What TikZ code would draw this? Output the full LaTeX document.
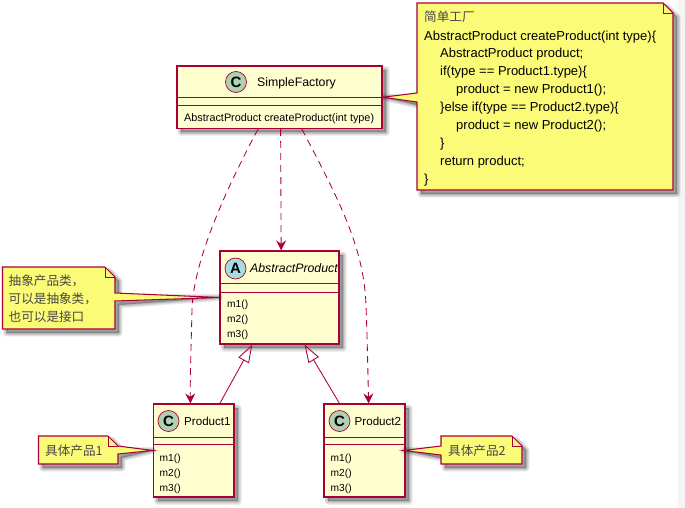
\documentclass[tikz,border=0pt]{standalone}
\usepackage{fontspec}
\setmainfont{Liberation Sans}
\newfontfamily\cjk{Noto Sans CJK SC}
\usetikzlibrary{arrows.meta,calc,backgrounds}
\definecolor{umlred}{HTML}{A80036}
\definecolor{classfill}{HTML}{FEFECE}
\definecolor{notefill}{HTML}{FBFB77}
\definecolor{cgreen}{HTML}{ADD1B2}
\definecolor{ablue}{HTML}{A9DCDF}
\definecolor{strip}{HTML}{F4F4F4}
\newcommand\softshadow[1]{%
  \begin{scope}[shift={(4pt,-4pt)},line join=round]
    \foreach \w in {7,5.5,4,2.5,1}{\filldraw[black,opacity=.065,line width=\w pt] #1;}
  \end{scope}}
\newcommand\classbox[6]{%
  \begin{scope}[on background layer]\softshadow{(#2,#3) rectangle (#4,#5)}\end{scope}
  \node[classbox,minimum width=#4 pt-#2 pt,minimum height=#5 pt-#3 pt] (#1) at ({(#2+#4)/2},{(#3+#5)/2}) {};
}
\newcommand\cjkgrey{\fontsize{12.6}{17.85}\cjk\color{black!72}}
\tikzset{
  x=1pt,y=-1pt,
  classbox/.style={draw=umlred,fill=classfill,line width=1.2pt,inner sep=0pt},
  divider/.style={draw=umlred,line width=.9pt},
  spot/.style={circle,draw=umlred,line width=.7pt,minimum size=21pt,inner sep=0pt,font=\fontsize{15}{15}\selectfont\bfseries},
  cls/.style={font=\fontsize{12.3}{12}\selectfont,inner sep=0pt,anchor=base west},
  cl/.style={font=\fontsize{11.6}{12}\selectfont,inner sep=0pt,anchor=base west},
  mem/.style={font=\fontsize{10.2}{12}\selectfont,inner sep=0pt,anchor=base west},
  meth/.style={font=\fontsize{10.85}{12}\selectfont,inner sep=0pt,anchor=base west},
  dep/.style={draw=umlred,line width=.85pt,dash pattern=on 7pt off 5pt,-{Stealth[length=10pt,width=10pt,inset=3.5pt,fill=umlred]}},
  inh/.style={draw=umlred,line width=.85pt,-{Triangle[open,length=18pt,width=12pt,fill=none]}},
  notepoly/.style={draw=umlred,fill=notefill,line width=1.05pt,line join=miter},
  notetext/.style={inner sep=0pt,anchor=base west,font=\fontsize{13}{17.85}\selectfont,text=black},
}
\begin{document}
\begin{tikzpicture}
\useasboundingbox (0,0) rectangle (685,508);
\begin{scope}[on background layer]
\fill[strip] (678,0) rectangle (685,508);
\end{scope}
% classes
\classbox{sf}{177}{66}{382}{128.5}{}
\classbox{ap}{220}{251}{339}{344}{}
\classbox{pa}{153.5}{404}{234}{497}{}
\classbox{pb}{324}{404}{405}{497}{}
\draw[divider] (sf.west |- 0,97) -- (sf.east |- 0,97) (sf.west |- 0,105) -- (sf.east |- 0,105);
\draw[divider] (ap.west |- 0,283) -- (ap.east |- 0,283) (ap.west |- 0,292) -- (ap.east |- 0,292);
\draw[divider] (pa.west |- 0,437) -- (pa.east |- 0,437) (pa.west |- 0,444) -- (pa.east |- 0,444);
\draw[divider] (pb.west |- 0,437) -- (pb.east |- 0,437) (pb.west |- 0,444) -- (pb.east |- 0,444);
\node[spot,fill=cgreen] (sfc) at (236,82) {C};
\node[spot,fill=ablue] (apa) at (235.5,268.5) {A};
\node[spot,fill=cgreen] (pac) at (168.5,421) {C};
\node[spot,fill=cgreen] (pbc) at (339.5,421) {C};
\node[cls] (sft) at (257,87) {SimpleFactory};
\node[meth] (sfm) at (184,121.5) {AbstractProduct createProduct(int type)};
\node[cls,font=\fontsize{12.3}{12}\selectfont\itshape] (apt) at (250,272.5) {AbstractProduct};
\node[mem] (apm1) at (227,307.5) {m1()};
\node[mem] (apm2) at (227,322.5) {m2()};
\node[mem] (apm3) at (227,337) {m3()};
\node[cl] (pat) at (184,425.5) {Product1};
\node[mem] (pam1) at (159.5,461.5) {m1()};
\node[mem] (pam2) at (159.5,476) {m2()};
\node[mem] (pam3) at (159.5,491) {m3()};
\node[cl] (pbt) at (354.5,425.5) {Product2};
\node[mem] (pbm1) at (330.5,461.5) {m1()};
\node[mem] (pbm2) at (330.5,476) {m2()};
\node[mem] (pbm3) at (330.5,491) {m3()};
% connectors
\draw[dep] (sf.272.7) -- (ap.88.2);
\draw[dep] (sf.236) .. controls (215,210) and (193,270) .. (192,310) .. controls (191,350) and (190,380) .. (pa.94.3);
\draw[dep] (sf.305) .. controls (342,205) and (364,250) .. (366,305) .. controls (367.5,345) and (368,380) .. (pb.85.1);
\draw[inh] (pa.61.3) -- (ap.240.6);
\draw[inh] (pb.118.3) -- (ap.298.7);
% notes
\coordinate (ntip) at (sf.east);
\coordinate (ptip) at ($(pb.east)+(-2,0)$);
\begin{scope}[on background layer]
\softshadow{(417,3) -- (663,3) -- (673,13) -- (673,190) -- (417,190) -- (417,102) -- (ntip) -- (417,93) -- cycle}
\end{scope}
\softshadow{(2.5,267) -- (105,267) -- (115,277) -- (115,293) -- (ap.west) -- (115,301) -- (115,329) -- (2.5,329) -- cycle}
\softshadow{(38.5,436) -- (108,436) -- (118,446) -- (pa.west) -- (118,454) -- (118,464) -- (38.5,464) -- cycle}
\softshadow{(441,436) -- (512,436) -- (522,446) -- (522,464) -- (441,464) -- (441,455) -- (ptip) -- (441,446) -- cycle}
\draw[notepoly] (417,3) -- (663,3) -- (673,13) -- (673,190) -- (417,190) -- (417,102) -- (ntip) -- (417,93) -- cycle;
\draw[divider,line width=.8pt] (663,3) -- (663,13) -- (673,13);
\draw[notepoly] (2.5,267) -- (105,267) -- (115,277) -- (115,293) -- (ap.west) -- (115,301) -- (115,329) -- (2.5,329) -- cycle;
\draw[divider,line width=.8pt] (105,267) -- (105,277) -- (115,277);
\draw[notepoly] (38.5,436) -- (108,436) -- (118,446) -- (pa.west) -- (118,454) -- (118,464) -- (38.5,464) -- cycle;
\draw[divider,line width=.8pt] (108,436) -- (108,446) -- (118,446);
\draw[notepoly] (441,436) -- (512,436) -- (522,446) -- (522,464) -- (441,464) -- (441,455) -- (ptip) -- (441,446) -- cycle;
\draw[divider,line width=.8pt] (512,436) -- (512,446) -- (522,446);
\node[notetext] (nt0) at (424,22) {\cjkgrey 简单工厂};
\node[notetext] (nt1) at (424,40.5) {AbstractProduct createProduct(int type)\{};
\node[notetext] (nt2) at (440,58) {AbstractProduct product;};
\node[notetext] (nt3) at (440,76) {if(type == Product1.type)\{};
\node[notetext] (nt4) at (456,94) {product = new Product1();};
\node[notetext] (nt5) at (440,112) {\}else if(type == Product2.type)\{};
\node[notetext] (nt6) at (456,129.5) {product = new Product2();};
\node[notetext] (nt7) at (440,147.5) {\}};
\node[notetext] (nt8) at (440,165) {return product;};
\node[notetext] (nt9) at (424,183) {\}};
\node[notetext] (na1) at (8.5,285) {\cjkgrey 抽象产品类，};
\node[notetext] (na2) at (8.5,303) {\cjkgrey 可以是抽象类，};
\node[notetext] (na3) at (8.5,321) {\cjkgrey 也可以是接口};
\node[notetext] (nb) at (45,455) {\cjkgrey 具体产品1};
\node[notetext] (nc) at (448,455) {\cjkgrey 具体产品2};
\end{tikzpicture}
\end{document}
